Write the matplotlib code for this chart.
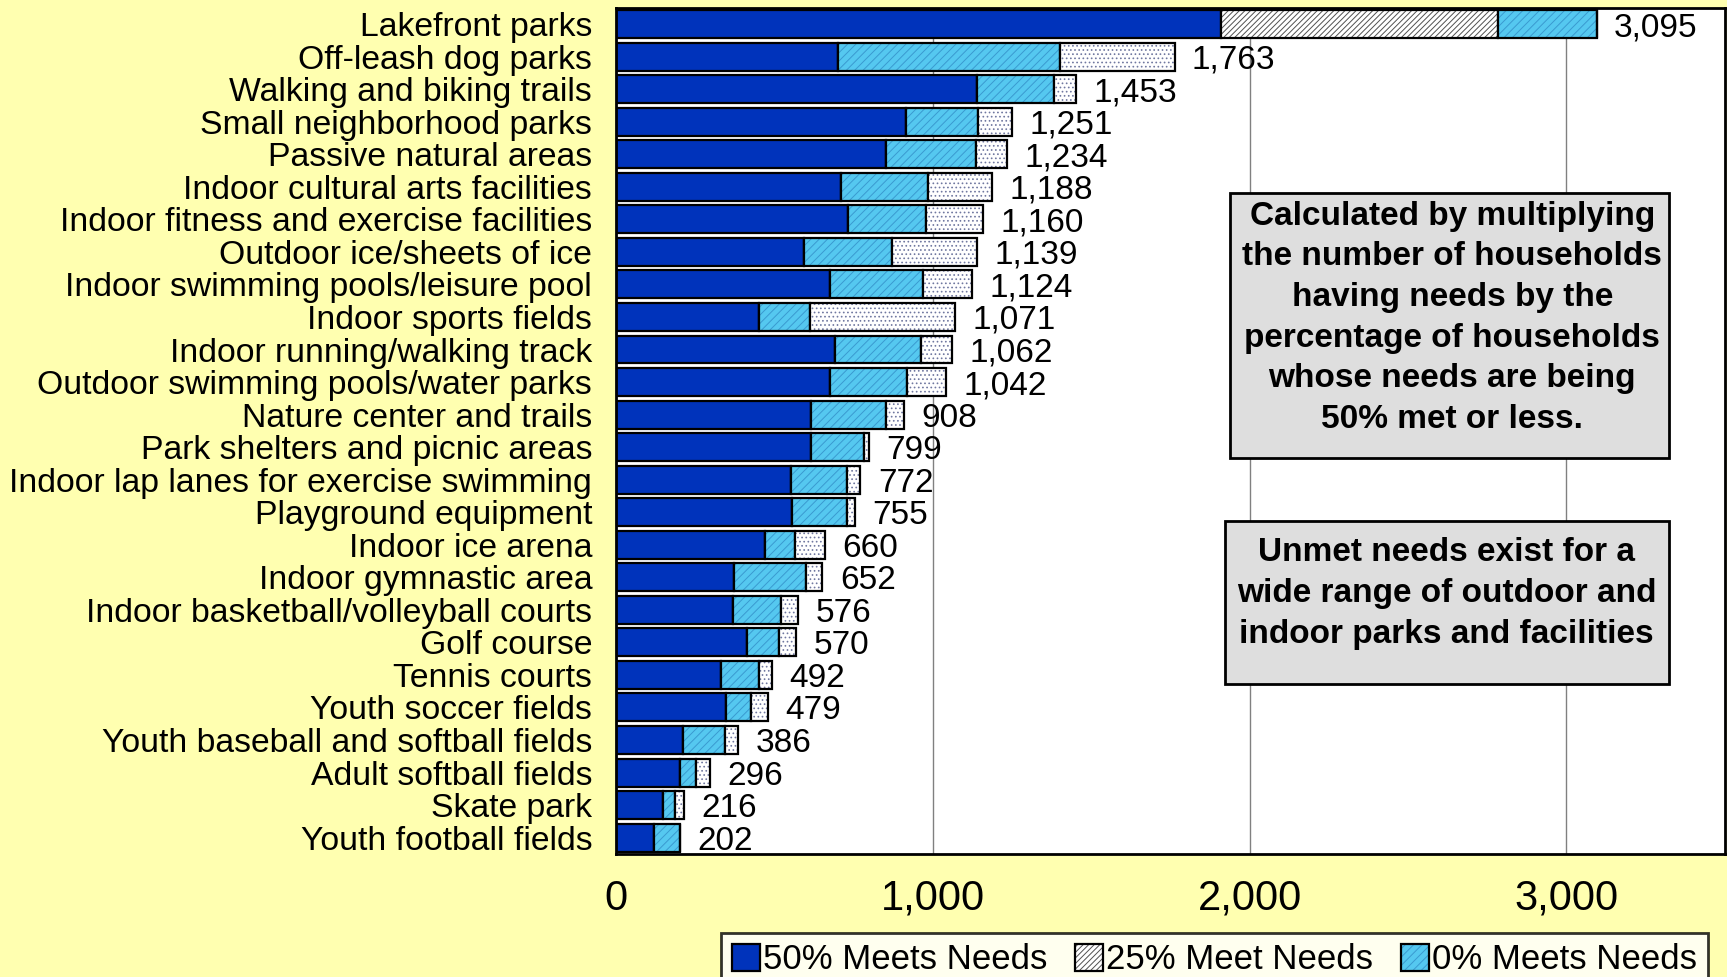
import numpy as np
import matplotlib
matplotlib.use('Agg')
import matplotlib.pyplot as plt
from matplotlib.patches import Patch, Rectangle

plt.rcParams['font.family'] = ['Liberation Sans', 'DejaVu Sans']
plt.rcParams['hatch.linewidth'] = 0.7

# ── Data ──────────────────────────────────────
categories = [
    'Lakefront parks', 'Off-leash dog parks', 'Walking and biking trails',
    'Small neighborhood parks', 'Passive natural areas',
    'Indoor cultural arts facilities', 'Indoor fitness and exercise facilities',
    'Outdoor ice/sheets of ice', 'Indoor swimming pools/leisure pool',
    'Indoor sports fields', 'Indoor running/walking track',
    'Outdoor swimming pools/water parks', 'Nature center and trails',
    'Park shelters and picnic areas', 'Indoor lap lanes for exercise swimming',
    'Playground equipment', 'Indoor ice arena', 'Indoor gymnastic area',
    'Indoor basketball/volleyball courts', 'Golf course', 'Tennis courts',
    'Youth soccer fields', 'Youth baseball and softball fields',
    'Adult softball fields', 'Skate park', 'Youth football fields',
]
meets_50 = [1910, 700, 1141, 917, 854, 709, 734, 593, 677, 451, 691, 677, 616,
            616, 552, 557, 472, 373, 371, 413, 333, 349, 212, 201, 148, 120]
meet_25 = [875, 0, 0, 0, 0, 0, 0, 0, 0, 0, 0, 0, 0,
           0, 0, 0, 0, 0, 0, 0, 0, 0, 0, 0, 0, 0]
meets_0 = [310, 702, 243, 225, 281, 276, 244, 279, 292, 163, 272, 243, 236,
           168, 178, 172, 94, 226, 149, 101, 118, 78, 134, 52, 40, 82]
other = [0, 361, 69, 109, 99, 203, 182, 267, 155, 457, 99, 122, 56,
         15, 42, 26, 94, 53, 56, 56, 41, 52, 40, 43, 28, 0]
totals = [3095, 1763, 1453, 1251, 1234, 1188, 1160, 1139, 1124, 1071, 1062,
          1042, 908, 799, 772, 755, 660, 652, 576, 570, 492, 479, 386, 296,
          216, 202]

BG = '#FFFFB0'
DARK = '#0033BB'
LIGHT = '#55C8F0'

# (fill, hatch, hatch colour) for each stacked series
STYLES = [
    (DARK, None, DARK),
    ('white', '//////', '#505050'),
    (LIGHT, '////', '#3A9AD0'),
    ('white', '....', '#7078A0'),
]

fig = plt.figure(figsize=(17.27, 9.77), dpi=100, facecolor=BG)
ax = fig.add_axes([0.3566, 0.126, 0.6422, 0.866])
ax.set_facecolor('white')

y = np.arange(len(categories))
h = 0.86

left = np.zeros(len(categories))
for vals, (fill, hatch, hcol) in zip([meets_50, meet_25, meets_0, other], STYLES):
    # hatch drawn in its own colour, then black outline on top
    ax.barh(y, vals, left=left, height=h, color=fill, hatch=hatch,
            edgecolor=hcol, linewidth=0)
    ax.barh(y, vals, left=left, height=h, fill=False,
            edgecolor='black', linewidth=1.6)
    left += vals

for yi, t in zip(y, totals):
    ax.text(t + 55, yi, f'{t:,}', va='center_baseline', ha='left', fontsize=24)

ax.set_xlim(0, 3500)
ax.set_ylim(len(categories) - 0.5, -0.5)
ax.set_xticks([0, 1000, 2000, 3000])
ax.set_xticklabels(['0', '1,000', '2,000', '3,000'], fontsize=30)
ax.set_yticks(y)
ax.set_yticklabels(categories, fontsize=24.3)
ax.tick_params(axis='both', length=0)
ax.tick_params(axis='y', pad=17)
ax.tick_params(axis='x', pad=18)
ax.grid(axis='x', color='#808080', linewidth=1)
ax.set_axisbelow(True)
for s in ax.spines.values():
    s.set_linewidth(2)
    s.set_color('black')

# ── Annotation boxes ──────────────────────────
for x0, y0, w, hh in [(0.7124, 0.531, 0.2542, 0.2718), (0.7092, 0.2999, 0.2570, 0.1668)]:
    fig.patches.append(Rectangle((x0, y0), w, hh, transform=fig.transFigure,
                                 facecolor='#DEDEDE', edgecolor='black',
                                 linewidth=2, zorder=3))
fig.text(0.8409, 0.6747,
         'Calculated by multiplying\nthe number of households\nhaving needs by the\n'
         'percentage of households\nwhose needs are being\n50% met or less.',
         ha='center', va='center', fontsize=24, fontweight='bold',
         linespacing=1.40, zorder=4)
fig.text(0.8377, 0.3924,
         'Unmet needs exist for a\nwide range of outdoor and\nindoor parks and facilities',
         ha='center', va='center', fontsize=24, fontweight='bold',
         linespacing=1.42, zorder=4)

# ── Legend ────────────────────────────────────
labels = ['50% Meets Needs', '25% Meet Needs', '0% Meets Needs']
handles = []
for fill, hatch, hcol in STYLES[:3]:
    handles.append((Patch(facecolor=fill, hatch=hatch, edgecolor=hcol, linewidth=0),
                    Patch(fill=False, edgecolor='black', linewidth=1.6)))
leg = fig.legend(handles=handles, labels=labels, loc='upper left',
                 bbox_to_anchor=(0.4177, 0.045),
                 ncol=3, fontsize=25, frameon=True, fancybox=False,
                 handlelength=0.8, handleheight=0.8, handletextpad=0.1,
                 columnspacing=0.8, borderpad=0.3, borderaxespad=0)
leg.get_frame().set_edgecolor('black')
leg.get_frame().set_linewidth(2)
leg.get_frame().set_facecolor('white')

plt.savefig('out.png', dpi=100, facecolor=BG)
